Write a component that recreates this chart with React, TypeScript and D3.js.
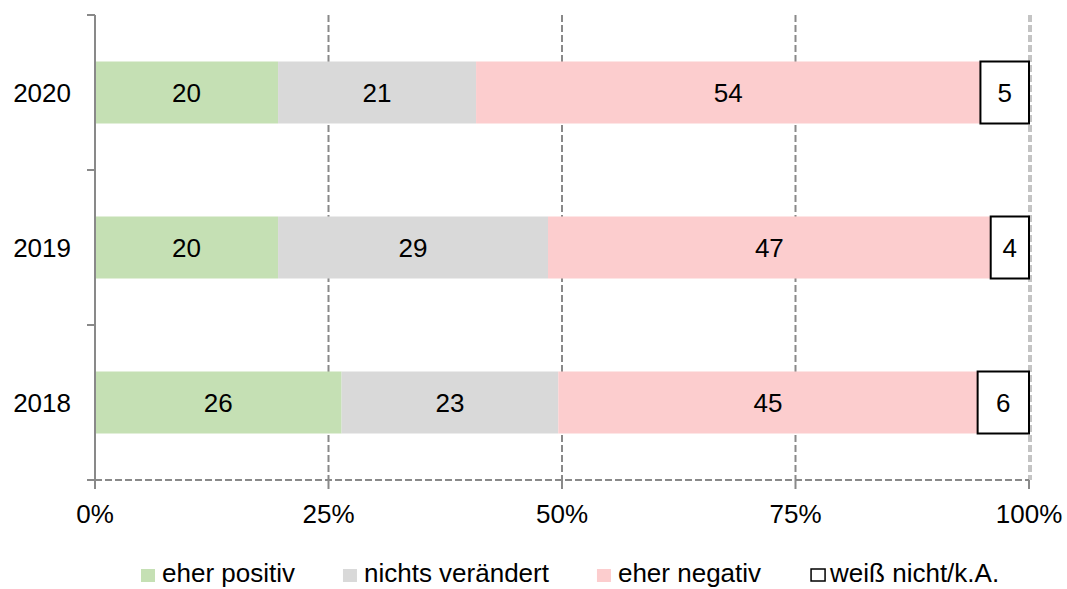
import { useEffect, useRef } from "react";
import * as d3 from "d3";

const categories = ["2020", "2019", "2018"];
const seriesNames = ["eher positiv", "nichts verändert", "eher negativ", "weiß nicht/k.A."];
const eherPositiv = [19.6, 19.6, 26.4];
const nichtsVeraendert = [21.2, 28.9, 23.2];
const eherNegativ = [54.0, 47.4, 44.9];
const weissNicht = [5.2, 4.1, 5.5];
const xTicks = [0, 25, 50, 75, 100];
const colors = ["#C5E0B4", "#D9D9D9", "#FCCDCE", "#FFFFFF"];

const FONT = "'Liberation Sans', Arial, sans-serif";

const App = () => {
  const svgRef = useRef<SVGSVGElement>(null);

  useEffect(() => {
    const width = 1067;
    const height = 589;
    const margin = { top: 15, right: 38, bottom: 109, left: 95 };

    const svg = d3.select(svgRef.current);
    svg.selectAll("*").remove();

    const rows = categories.map((c, i) => ({
      cat: c,
      [seriesNames[0]]: eherPositiv[i],
      [seriesNames[1]]: nichtsVeraendert[i],
      [seriesNames[2]]: eherNegativ[i],
      [seriesNames[3]]: weissNicht[i],
    }));
    const stacked = d3.stack<any>().keys(seriesNames)(rows);

    const x = d3.scaleLinear().domain([0, 100]).range([margin.left, width - margin.right]);
    const y = d3.scaleBand().domain(categories)
      .range([margin.top, height - margin.bottom])
      .paddingInner(0.6)
      .paddingOuter(0.3);

    const y0 = margin.top;
    const y1 = height - margin.bottom;
    const grey = "#898989";

    // gridlines
    svg.append("g").selectAll("line")
      .data(xTicks.slice(1))
      .join("line")
      .attr("x1", d => x(d)).attr("x2", d => x(d))
      .attr("y1", y0).attr("y2", y1)
      .attr("stroke", grey)
      .attr("stroke-width", d => d === 100 ? 1 : 2)
      .attr("stroke-dasharray", "7,3");
    // second thin line at the plot edge
    svg.append("line")
      .attr("x1", x(100) + 2).attr("x2", x(100) + 2)
      .attr("y1", y0).attr("y2", y1)
      .attr("stroke", grey).attr("stroke-width", 1)
      .attr("stroke-dasharray", "7,3");

    // bars
    const layers = svg.append("g").selectAll("g")
      .data(stacked)
      .join("g")
      .attr("fill", (d, i) => colors[i]);

    layers.each(function (layer, li) {
      const g = d3.select(this);
      g.selectAll("rect")
        .data(layer)
        .join("rect")
        .attr("x", d => x(d[0]))
        .attr("y", d => y(d.data.cat)!)
        .attr("width", d => x(d[1]) - x(d[0]))
        .attr("height", y.bandwidth())
        .attr("stroke", li === 3 ? "#000" : "none")
        .attr("stroke-width", li === 3 ? 2 : 0);
      g.selectAll("text")
        .data(layer)
        .join("text")
        .attr("x", d => (x(d[0]) + x(d[1])) / 2)
        .attr("y", d => y(d.data.cat)! + y.bandwidth() / 2)
        .attr("dy", "0.35em")
        .attr("text-anchor", "middle")
        .attr("fill", "#000")
        .style("font-family", FONT)
        .style("font-size", "26px")
        .text(d => Math.round(d[1] - d[0]));
    });

    // y axis
    svg.append("line")
      .attr("x1", x(0)).attr("x2", x(0))
      .attr("y1", y0).attr("y2", y1 + 9)
      .attr("stroke", grey).attr("stroke-width", 2);
    const bounds = d3.range(categories.length + 1).map(i => y0 + i * (y1 - y0) / categories.length);
    svg.append("g").selectAll("line")
      .data(bounds)
      .join("line")
      .attr("x1", x(0) - 8).attr("x2", x(0))
      .attr("y1", d => d).attr("y2", d => d)
      .attr("stroke", grey).attr("stroke-width", 2);
    svg.append("g").selectAll("text")
      .data(categories)
      .join("text")
      .attr("x", x(0) - 24)
      .attr("y", d => y(d)! + y.bandwidth() / 2)
      .attr("dy", "0.35em")
      .attr("text-anchor", "end")
      .style("font-family", FONT)
      .style("font-size", "26px")
      .text(d => d);

    // x axis
    svg.append("line")
      .attr("x1", x(0)).attr("x2", x(100))
      .attr("y1", y1).attr("y2", y1)
      .attr("stroke", grey).attr("stroke-width", 2)
      .attr("stroke-dasharray", "7,3");
    svg.append("g").selectAll("line")
      .data(xTicks)
      .join("line")
      .attr("x1", d => x(d)).attr("x2", d => x(d))
      .attr("y1", y1).attr("y2", y1 + 9)
      .attr("stroke", grey).attr("stroke-width", 2);
    svg.append("g").selectAll("text")
      .data(xTicks)
      .join("text")
      .attr("x", d => x(d))
      .attr("y", y1 + 43)
      .attr("text-anchor", "middle")
      .style("font-family", FONT)
      .style("font-size", "26px")
      .text(d => d + "%");

    // legend
    const legend = svg.append("g");
    let lx = 141;
    const ly = 582;
    seriesNames.forEach((name, i) => {
      const last = i === 3;
      legend.append("rect")
        .attr("x", lx + (last ? 2 : 0))
        .attr("y", ly - 13)
        .attr("width", 14)
        .attr("height", last ? 12 : 13)
        .attr("fill", colors[i])
        .attr("stroke", last ? "#000" : "none")
        .attr("stroke-width", last ? 1.5 : 0);
      const t = legend.append("text")
        .attr("x", lx + 21)
        .attr("y", ly)
        .style("font-family", FONT)
        .style("font-size", "26px")
        .text(name);
      const w = (t.node() as SVGTextElement).getComputedTextLength();
      lx += 20 + w + 49;
    });
  }, []);

  return (
    <svg
      ref={svgRef}
      width={1067}
      height={589}
      style={{ position: "absolute", left: 0, top: 0, background: "#fff" }}
    />
  );
};

export default App;
